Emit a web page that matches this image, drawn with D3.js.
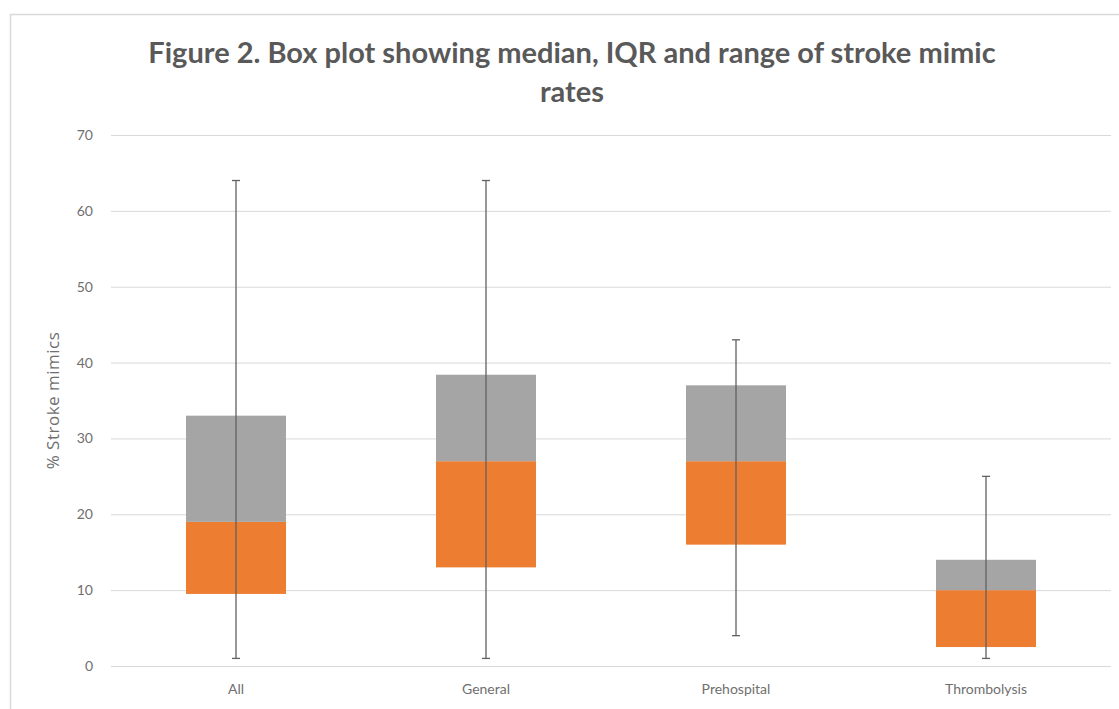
<!DOCTYPE html>
<html>
<head>
<meta charset="utf-8">
<script src="https://cdn.jsdelivr.net/npm/d3@7"></script>
<style>
	body { margin: 0; background: #fff; }
	text { font-family: Lato, "Open Sans", sans-serif; fill: #595959; }
</style>
</head>
<body>
<script>
(function() {

	// data
	var categories = ["All", "General", "Prehospital", "Thrombolysis"];
	var minValues = [1, 1, 4, 1];
	var q1Values = [9.5, 13, 16, 2.5];
	var medianValues = [19, 27, 27, 10];
	var q3Values = [33, 38.4, 37, 14];
	var maxValues = [64, 64, 43, 25];
	var yTicks = [0, 10, 20, 30, 40, 50, 60, 70];

	var titleLines = ["Figure 2. Box plot showing median, IQR and range of stroke mimic", "rates"];

	var W = 1119, H = 709;
	var margin = { top: 135, right: 8, bottom: 43, left: 111 };
	var width = W - margin.left - margin.right;
	var height = H - margin.top - margin.bottom;

	var svg = d3.select("body")
		.append("svg")
		.attr("width", W)
		.attr("height", H);

	// chart area border (cut off at right and bottom in the original)
	svg.append("rect")
		.attr("x", 10.5)
		.attr("y", 14.5)
		.attr("width", W)
		.attr("height", H)
		.attr("fill", "none")
		.attr("stroke", "#d9d9d9")
		.attr("stroke-width", 1.5);

	// title
	svg.append("text")
		.attr("y", 63)
		.attr("text-anchor", "middle")
		.style("font-size", "29px")
		.style("font-weight", "bold")
		.selectAll("tspan")
		.data(titleLines)
		.enter()
		.append("tspan")
		.attr("x", 572)
		.attr("dy", function(d, i) { return i ? 39 : 0; })
		.text(function(d) { return d; });

	var g = svg.append("g")
		.attr("transform", "translate(" + margin.left + "," + margin.top + ")");

	var x = d3.scaleBand()
		.domain(categories)
		.range([0, width])
		.paddingInner(0.6)
		.paddingOuter(0.3);

	var y = d3.scaleLinear()
		.domain([0, 70])
		.range([height, 0]);

	// y axis with gridlines
	var yAxis = d3.axisLeft(y)
		.tickValues(yTicks)
		.tickSize(-width)
		.tickPadding(18);

	g.append("g")
		.attr("class", "y axis")
		.call(yAxis)
		.call(function(sel) {
			sel.select(".domain").remove();
			sel.selectAll(".tick line").attr("stroke", "#d9d9d9").attr("stroke-width", 1);
			sel.selectAll(".tick text").style("font-size", "14px").style("fill", "#6f6f6f")
				.style("font-family", "Lato, 'Open Sans', sans-serif");
		});

	// x axis labels
	var xAxis = d3.axisBottom(x).tickSize(0).tickPadding(18);
	g.append("g")
		.attr("class", "x axis")
		.attr("transform", "translate(0," + height + ")")
		.call(xAxis)
		.call(function(sel) {
			sel.select(".domain").remove();
			sel.selectAll(".tick text").style("font-size", "14px").style("fill", "#6f6f6f")
				.style("font-family", "Lato, 'Open Sans', sans-serif");
		});

	// y axis title
	svg.append("text")
		.attr("transform", "translate(59," + (margin.top + y(35)) + ") rotate(-90)")
		.attr("text-anchor", "middle")
		.style("font-size", "17px")
		.style("letter-spacing", "0.5px")
		.style("font-family", "'Open Sans', sans-serif")
		.style("fill", "#6f6f6f")
		.text("% Stroke mimics");

	var rows = categories.map(function(c, i) {
		return { cat: c, min: minValues[i], q1: q1Values[i], med: medianValues[i], q3: q3Values[i], max: maxValues[i] };
	});

	// lower box: q1 to median
	g.selectAll(".lower")
		.data(rows)
		.enter()
		.append("rect")
		.attr("class", "lower")
		.attr("x", function(d) { return x(d.cat); })
		.attr("width", x.bandwidth())
		.attr("y", function(d) { return y(d.med); })
		.attr("height", function(d) { return y(d.q1) - y(d.med); })
		.attr("fill", "#ed7d31");

	// upper box: median to q3
	g.selectAll(".upper")
		.data(rows)
		.enter()
		.append("rect")
		.attr("class", "upper")
		.attr("x", function(d) { return x(d.cat); })
		.attr("width", x.bandwidth())
		.attr("y", function(d) { return y(d.q3); })
		.attr("height", function(d) { return y(d.med) - y(d.q3); })
		.attr("fill", "#a5a5a5");

	// whiskers
	var cx = function(d) { return x(d.cat) + x.bandwidth() / 2; };
	var whisk = g.selectAll(".whisker")
		.data(rows)
		.enter()
		.append("g")
		.attr("class", "whisker")
		.attr("stroke", "#616161")
		.attr("stroke-width", 1.3);

	whisk.append("line")
		.attr("x1", cx).attr("x2", cx)
		.attr("y1", function(d) { return y(d.max); })
		.attr("y2", function(d) { return y(d.min); });

	whisk.append("line")
		.attr("x1", function(d) { return cx(d) - 4; })
		.attr("x2", function(d) { return cx(d) + 4; })
		.attr("y1", function(d) { return y(d.max); })
		.attr("y2", function(d) { return y(d.max); });

	whisk.append("line")
		.attr("x1", function(d) { return cx(d) - 4; })
		.attr("x2", function(d) { return cx(d) + 4; })
		.attr("y1", function(d) { return y(d.min); })
		.attr("y2", function(d) { return y(d.min); });

})();
</script>
</body>
</html>
